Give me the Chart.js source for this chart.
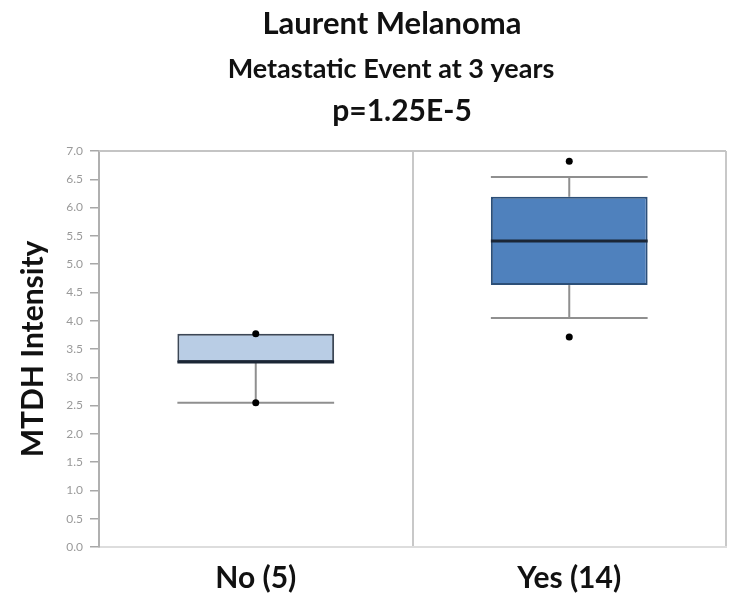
<!DOCTYPE html>
<html>
<head>
<meta charset="utf-8">
<script src="https://cdn.jsdelivr.net/npm/chart.js@4/dist/chart.umd.min.js"></script>
<style>
  html, body { margin: 0; padding: 0; background: #ffffff; }
  #wrap { width: 730px; height: 599px; }
</style>
</head>
<body>
<div id="wrap"><canvas id="c" width="730" height="599"></canvas></div>
<script>
// ---- data ----
const categories = ['No (5)', 'Yes (14)'];
const q1 = [3.27, 4.63];
const median = [3.27, 5.41];
const q3 = [3.77, 6.19];
const whiskerLow = [2.55, 4.05];
const whiskerHigh = [3.77, 6.54];
const pointCategory = ['No (5)', 'No (5)', 'Yes (14)', 'Yes (14)'];
const pointValue = [3.77, 2.55, 6.82, 3.71];
const titleLines = ['Laurent Melanoma', 'Metastatic Event at 3 years', 'p=1.25E-5'];
const yAxisTitle = 'MTDH Intensity';
const yMin = 0, yMax = 7, yStep = 0.5;

const boxFill = ['#b9cde5', '#4f81bd'];
const boxEdge = ['#3c4756', '#2c4f78'];

const FONT = 'Lato, "Open Sans", sans-serif';

const boxPlugin = {
  id: 'boxParts',
  afterDatasetDraw(chart, args) {
    if (args.index !== 0) return;
    const ctx = chart.ctx;
    const ys = chart.scales.y;
    const meta = chart.getDatasetMeta(0);
    ctx.save();
    meta.data.forEach((el, i) => {
      const x = el.x, half = el.width / 2;
      ctx.strokeStyle = '#8f8f8f';
      ctx.lineWidth = 2;
      if (whiskerHigh[i] > q3[i]) {
        const yq = ys.getPixelForValue(q3[i]);
        const yw = ys.getPixelForValue(whiskerHigh[i]);
        ctx.beginPath(); ctx.moveTo(x, yq); ctx.lineTo(x, yw); ctx.stroke();
        ctx.beginPath(); ctx.moveTo(x - half, yw); ctx.lineTo(x + half, yw); ctx.stroke();
      }
      if (whiskerLow[i] < q1[i]) {
        const yq = ys.getPixelForValue(q1[i]);
        const yw = ys.getPixelForValue(whiskerLow[i]);
        ctx.beginPath(); ctx.moveTo(x, yq); ctx.lineTo(x, yw); ctx.stroke();
        ctx.beginPath(); ctx.moveTo(x - half, yw); ctx.lineTo(x + half, yw); ctx.stroke();
      }
      const ym = ys.getPixelForValue(median[i]);
      ctx.strokeStyle = '#1b2636';
      ctx.lineWidth = 3;
      ctx.beginPath(); ctx.moveTo(x - half, ym); ctx.lineTo(x + half, ym); ctx.stroke();
    });
    ctx.restore();
  }
};

const framePlugin = {
  id: 'frameTop',
  afterDraw(chart) {
    const { ctx, chartArea } = chart;
    ctx.save();
    ctx.strokeStyle = '#c4c4c4';
    ctx.lineWidth = 2;
    ctx.beginPath();
    ctx.moveTo(chartArea.left, chartArea.top);
    ctx.lineTo(chartArea.right, chartArea.top);
    ctx.stroke();
    ctx.restore();
  }
};

const titlePlugin = {
  id: 'titles',
  afterDraw(chart) {
    const ctx = chart.ctx;
    ctx.save();
    ctx.fillStyle = '#111111';
    ctx.textAlign = 'center';
    ctx.textBaseline = 'alphabetic';
    ctx.font = 'bold 31px ' + FONT;
    ctx.fillText(titleLines[0], 392, 34);
    ctx.font = 'bold 27px ' + FONT;
    ctx.fillText(titleLines[1], 391, 78);
    ctx.font = 'bold 30px ' + FONT;
    ctx.fillText(titleLines[2], 402, 121);
    ctx.restore();
  }
};

new Chart(document.getElementById('c'), {
  type: 'bar',
  data: {
    labels: categories,
    datasets: [
      {
        type: 'bar',
        data: categories.map((c, i) => [q1[i], q3[i]]),
        backgroundColor: boxFill,
        borderColor: boxEdge,
        borderWidth: 2,
        borderSkipped: false,
        barPercentage: 0.5,
        categoryPercentage: 1.0,
        order: 2
      },
      {
        type: 'line',
        data: pointCategory.map((c, i) => ({ x: c, y: pointValue[i] })),
        showLine: false,
        pointRadius: 3.5,
        pointBackgroundColor: '#000000',
        pointBorderColor: '#000000',
        pointBorderWidth: 0,
        order: 1
      }
    ]
  },
  options: {
    responsive: false,
    animation: false,
    devicePixelRatio: 1,
    layout: { padding: { top: 151, right: 2, left: 0, bottom: 0 } },
    plugins: { legend: { display: false }, tooltip: { enabled: false }, title: { display: false } },
    scales: {
      x: {
        offset: true,
        afterFit(scale) { scale.height = 52; },
        grid: { offset: true, color: '#c8c8c8', lineWidth: 2, drawTicks: false },
        border: { display: true, color: '#dddddd', width: 2 },
        ticks: { color: '#111111', padding: 13, font: { family: FONT, size: 30, weight: 'bold' } }
      },
      y: {
        min: yMin, max: yMax,
        afterFit(scale) { scale.width = 99; },
        grid: { drawOnChartArea: false, color: '#a8a8a8', tickLength: 9, lineWidth: 1.5 },
        border: { display: true, color: '#b0b0b0', width: 2 },
        ticks: {
          stepSize: yStep, color: '#9a9a9a', padding: 7,
          font: { family: FONT, size: 12 },
          callback: (v) => Number(v).toFixed(1)
        },
        title: {
          display: true, text: yAxisTitle, color: '#111111',
          font: { family: FONT, size: 30, weight: 'bold' },
          padding: { top: 15, bottom: 0 }
        }
      }
    }
  },
  plugins: [boxPlugin, framePlugin, titlePlugin]
});
</script>
</body>
</html>
